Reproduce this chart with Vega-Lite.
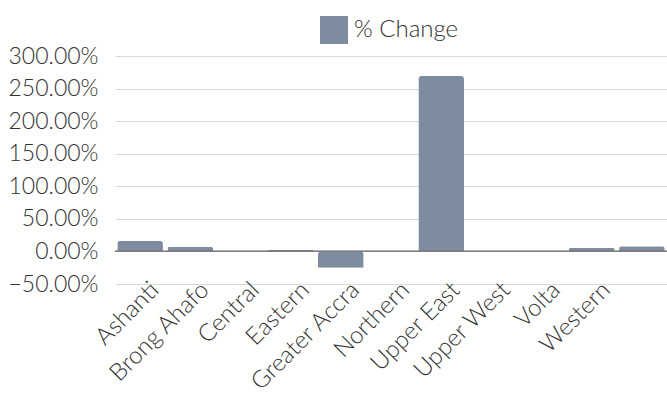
{
  "$schema": "https://vega.github.io/schema/vega-lite/v6.json",
  "autosize": {"type": "none"},
  "width": 552,
  "height": 228,
  "padding": {"left": 115, "top": 56, "right": 0, "bottom": 130},
  "background": "white",
  "config": {
    "view": {"stroke": null},
    "font": "Lato",
    "axis": {"labelFont": "Lato", "labelColor": "#333333", "labelFontWeight": 300, "labelOverlap": false},
    "axisY": {"labelOverlap": false},
    "legend": {"labelFont": "Lato", "labelColor": "#333333", "labelFontWeight": 300}
  },
  "data": {
    "values": [
      {"region": "Ashanti", "change": 0.164, "series": "% Change"},
      {"region": "Brong Ahafo", "change": 0.072, "series": "% Change"},
      {"region": "Central", "change": 0.0, "series": "% Change"},
      {"region": "Eastern", "change": 0.026, "series": "% Change"},
      {"region": "Greater Accra", "change": -0.25, "series": "% Change"},
      {"region": "Northern", "change": 0.0, "series": "% Change"},
      {"region": "Upper East", "change": 2.693, "series": "% Change"},
      {"region": "Upper West", "change": 0.0, "series": "% Change"},
      {"region": "Volta", "change": 0.0, "series": "% Change"},
      {"region": "Western", "change": 0.057, "series": "% Change"},
      {"region": "", "change": 0.078, "series": "% Change"}
    ]
  },
  "layer": [
    {
      "mark": {"type": "bar", "cornerRadiusEnd": 3},
      "encoding": {
        "x": {
          "field": "region",
          "type": "nominal",
          "sort": null,
          "scale": {"paddingInner": 0.09, "paddingOuter": 0.045},
          "axis": {
            "title": null,
            "domain": false,
            "ticks": false,
            "labelAngle": -45,
            "labelAlign": "right",
            "labelBaseline": "middle",
            "labelFontSize": 24,
            "labelPadding": 2,
            "labelOffset": 15,
            "labelOverlap": false
          }
        },
        "y": {
          "field": "change",
          "type": "quantitative",
          "scale": {"domain": [-0.5, 3], "nice": false, "zero": false},
          "axis": {
            "title": null,
            "values": [-0.5, 0, 0.5, 1, 1.5, 2, 2.5, 3],
            "format": ".2%",
            "domain": false,
            "ticks": false,
            "gridColor": "#d9d9d9",
            "labelFontSize": 23,
            "labelPadding": 17,
            "labelOverlap": false
          }
        },
        "color": {
          "field": "series",
          "type": "nominal",
          "scale": {"range": ["#7f8b9e"]},
          "legend": {
            "title": null,
            "orient": "none",
            "legendX": 205,
            "legendY": -40,
            "direction": "horizontal",
            "symbolType": "square",
            "symbolSize": 784,
            "symbolStrokeWidth": 0,
            "symbolOpacity": 1,
            "labelFontSize": 24,
            "labelOffset": 6
          }
        }
      }
    },
    {
      "mark": {"type": "rule", "color": "#7f7f7f", "strokeWidth": 1},
      "encoding": {
        "y": {
          "datum": 0,
          "type": "quantitative",
          "axis": {
            "title": null,
            "values": [-0.5, 0, 0.5, 1, 1.5, 2, 2.5, 3],
            "format": ".2%",
            "domain": false,
            "ticks": false,
            "gridColor": "#d9d9d9",
            "labelFontSize": 23,
            "labelPadding": 17,
            "labelOverlap": false
          }
        }
      }
    }
  ]
}
